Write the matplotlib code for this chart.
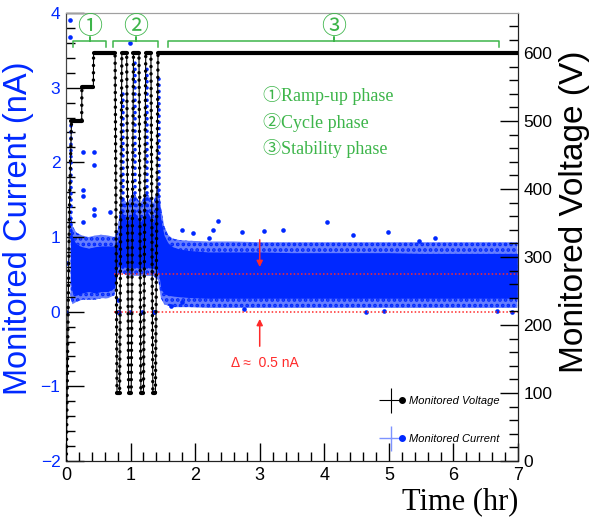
import numpy as np
import matplotlib
matplotlib.use('Agg')
import matplotlib.pyplot as plt
from matplotlib.lines import Line2D
from matplotlib.ticker import MultipleLocator, FixedLocator
from matplotlib.legend_handler import HandlerTuple

# ---------------- data ----------------
# Monitored voltage (V) vs time (hr)
volt_t = [0.0, 0.005, 0.03, 0.055, 0.085, 0.243, 0.246, 0.424, 0.427, 0.76, 0.79, 0.83, 0.865,
          0.94, 0.97, 1.01, 1.045, 1.13, 1.16, 1.20, 1.235, 1.315, 1.345, 1.385, 1.425, 7.0]
volt_v = [0, 0, 200, 380, 500, 500, 550, 550, 600, 600, 100, 100, 600,
          600, 100, 100, 600, 600, 100, 100, 600, 600, 100, 100, 600, 600]

# Monitored current (nA): dense cloud summarised by envelope knots
band_t = [0.07, 0.10, 0.16, 0.25, 0.35, 0.45, 0.55, 0.65, 0.75, 0.80, 0.86, 0.95, 1.05, 1.15,
          1.25, 1.35, 1.43, 1.47, 1.52, 1.58, 1.65, 1.75, 1.9, 2.2, 2.6, 3.0, 3.5, 4.0, 4.5,
          5.0, 5.5, 6.0, 6.5, 6.99]
core_lo = [0.40, 0.25, 0.22, 0.25, 0.27, 0.25, 0.27, 0.27, 0.32, 0.60, 0.62, 0.58, 0.60, 0.58,
           0.60, 0.58, 0.55, 0.30, 0.24, 0.22, 0.21, 0.20, 0.19, 0.18, 0.18, 0.18, 0.18, 0.18,
           0.18, 0.18, 0.18, 0.18, 0.18, 0.18]
core_hi = [1.15, 1.00, 0.90, 0.87, 0.85, 0.87, 0.88, 0.88, 0.88, 0.95, 1.35, 1.20, 1.35, 1.20,
           1.35, 1.20, 1.50, 1.22, 1.02, 0.92, 0.87, 0.84, 0.82, 0.80, 0.80, 0.80, 0.79, 0.79,
           0.79, 0.79, 0.78, 0.78, 0.78, 0.78]
fringe_lo = [0.18, 0.10, 0.13, 0.16, 0.16, 0.16, 0.18, 0.18, 0.22, 0.48, 0.52, 0.48, 0.48, 0.48,
             0.48, 0.48, 0.42, 0.18, 0.10, 0.08, 0.06, 0.06, 0.06, 0.05, 0.05, 0.05, 0.05, 0.05,
             0.05, 0.05, 0.05, 0.05, 0.05, 0.05]
fringe_hi = [1.40, 1.15, 1.06, 1.02, 1.00, 1.02, 1.03, 1.02, 1.00, 1.10, 1.55, 1.45, 1.60, 1.45,
             1.60, 1.45, 1.70, 1.40, 1.15, 1.03, 0.98, 0.96, 0.95, 0.94, 0.94, 0.93, 0.93, 0.93,
             0.93, 0.93, 0.93, 0.93, 0.93, 0.93]

# current spikes during voltage ramps
spike_t = [0.07, 0.88, 1.065, 1.25, 1.445]
spike_lo = [1.0, 0.6, 0.6, 0.6, 0.8]
spike_hi = [2.5, 3.0, 3.4, 3.3, 3.2]

# isolated current points
out_t = [0.06, 0.06, 0.99, 0.26, 0.43, 0.43, 0.26, 0.26, 0.43, 0.43, 0.68, 0.27, 0.005, 0.02,
         0.81, 0.82, 0.99, 1.17, 1.36, 1.37, 0.80, 1.80,
         2.36, 2.72, 3.07, 3.36, 4.04, 2.28, 1.79, 1.96, 2.21, 4.45, 4.99, 5.72, 5.46,
         4.64, 4.92, 6.91, 6.68, 2.75, 1.62]
out_i = [3.90, 3.68, 3.60, 2.14, 2.14, 1.96, 1.63, 1.55, 1.38, 1.30, 1.34, 1.20, 0.0, 0.65,
         0.0, 0.0, 0.0, 0.0, 0.0, 0.0, 0.15, 0.13,
         1.22, 1.07, 1.08, 1.10, 1.20, 1.10, 1.09, 1.05, 0.99, 1.03, 1.07, 0.99, 0.94,
         0.0, 0.01, 0.0, 0.01, 0.03, 0.07]

ref_levels = [0.0, 0.5]
ref_span = [0.75, 7.0]

phase_start = [0.11, 0.73, 1.58]
phase_end = [0.62, 1.43, 6.71]
phase_marks = ['\u2460', '\u2461', '\u2462']
phase_names = ['Ramp-up phase', 'Cycle phase', 'Stability phase']

x_ticks = [0, 1, 2, 3, 4, 5, 6, 7]
i_ticks = [-2, -1, 0, 1, 2, 3, 4]
v_ticks = [0, 100, 200, 300, 400, 500, 600]

# ---------------- style ----------------
BLUE = '#0028ff'
GREEN = '#3db54a'
RED = '#ff2a2a'
plt.rcParams['font.family'] = ['Liberation Sans', 'DejaVu Sans']
plt.rcParams['hatch.linewidth'] = 1.8

fig = plt.figure(figsize=(5.89, 5.22), dpi=100)
ax = fig.add_axes([66 / 589, 61 / 522, 452 / 589, 448 / 522])
ax.set_xlim(0, 7)
ax.set_ylim(-2, 4)
ax2 = ax.twinx()
ax2.set_ylim(0, 659)

# current cloud
ax.fill_between(band_t, fringe_lo, fringe_hi, facecolor=BLUE, alpha=0.6, lw=0, zorder=1)
ax.fill_between(band_t, fringe_lo, fringe_hi, facecolor='none', edgecolor=BLUE,
                hatch='...', lw=0, zorder=1)
ax.fill_between(band_t, core_lo, core_hi, color=BLUE, lw=0, zorder=2)
for t0, lo, hi in zip(spike_t, spike_lo, spike_hi):
    ax.plot([t0, t0], [lo, hi], color=BLUE, lw=2.6, ls=(0, (0.01, 1.7)),
            dash_capstyle='round', zorder=2)
ax.scatter(out_t, out_i, s=11, color=BLUE, lw=0, zorder=2)

# reference lines
ax.hlines(ref_levels, ref_span[0], ref_span[1], colors=RED, linestyles=(0, (1, 1.4)),
          lw=1.1, zorder=3)

# voltage
vt = np.array(volt_t)
vv = np.array(volt_v)
ax2.plot(vt, vv, color='black', lw=0.8, zorder=4)
ax2.plot(vt, vv, color='black', lw=2.5, ls=(0, (0.01, 2.1)), dash_capstyle='round', zorder=4)
flat = np.where(vv[:-1] == vv[1:])[0]
for i in flat:
    ax2.plot(vt[i:i + 2], vv[i:i + 2], color='black', lw=3.0, solid_capstyle='round', zorder=4)

# axes styling
ax.xaxis.set_major_locator(FixedLocator(x_ticks))
ax.xaxis.set_minor_locator(MultipleLocator(0.2))
ax.yaxis.set_major_locator(FixedLocator(i_ticks))
ax.yaxis.set_minor_locator(MultipleLocator(0.2))
ax2.yaxis.set_major_locator(FixedLocator(v_ticks))
ax2.yaxis.set_minor_locator(MultipleLocator(20))
ax.tick_params(axis='x', which='major', direction='in', length=13, width=1, labelsize=13, pad=4,
               top=False)
ax.tick_params(axis='x', which='minor', direction='in', length=6.5, width=1, top=False)
ax.tick_params(axis='y', which='major', direction='in', length=13, width=1, labelsize=12.5,
               labelcolor=BLUE, pad=4, right=False)
ax.tick_params(axis='y', which='minor', direction='in', length=6.5, width=1, right=False)
ax2.tick_params(axis='y', which='major', direction='in', length=13, width=1, labelsize=12.5, pad=4)
ax2.tick_params(axis='y', which='minor', direction='in', length=6.5, width=1)
for a in (ax, ax2):
    a.spines['top'].set_color('#a0a0a0')
    a.spines['left'].set_color('#444444')
    a.spines['bottom'].set_color('#222222')
    a.spines['right'].set_color('#222222')

fig.text(19 / 589, 1 - 228 / 522, 'Monitored Current (nA)', rotation=90, color=BLUE,
         fontsize=23.5, ha='center', va='center')
fig.text(574 / 589, 1 - 212 / 522, 'Monitored Voltage (V)', rotation=90, color='black',
         fontsize=24, ha='center', va='center')
fig.text(460 / 589, 1 - 502 / 522, 'Time (hr)', family='Liberation Serif', fontsize=22,
         ha='center', va='center')

# phase brackets
for s, e, m in zip(phase_start, phase_end, phase_marks):
    mid = 0.5 * (s + e)
    ax2.plot([s, s, mid, mid, mid, e, e], [3.545, 3.63, 3.63, 3.68, 3.63, 3.63, 3.545],
             color=GREEN, lw=1.1, transform=ax.transData, zorder=5)
    ax2.text(mid, 3.81, m, color=GREEN, fontsize=18, ha='center', va='center',
             family=['Noto Sans CJK JP', 'DejaVu Sans'], transform=ax.transData, zorder=5)

for k, (m, name) in enumerate(zip(phase_marks, phase_names)):
    ax2.text(3.05, 2.89 - 0.35 * k, m + name, color=GREEN, fontsize=13, ha='left', va='center',
             family=['Liberation Serif', 'Noto Sans CJK JP'], transform=ax.transData, zorder=5)

# delta annotation
ax2.annotate('', xy=(3.0, 0.56), xytext=(3.0, 1.0), xycoords=ax.transData,
             textcoords=ax.transData,
             arrowprops=dict(arrowstyle='-|>', color=RED, lw=1.1, mutation_scale=9))
ax2.annotate('', xy=(3.0, -0.06), xytext=(3.0, -0.5), xycoords=ax.transData,
             textcoords=ax.transData,
             arrowprops=dict(arrowstyle='-|>', color=RED, lw=1.1, mutation_scale=9))
ax2.text(3.08, -0.69, '\u0394 \u2248  0.5 nA', color=RED, fontsize=10, ha='center', va='center',
         transform=ax.transData)

# legend
h_v = (Line2D([], [], color='black', marker='+', ms=18, mew=0.8, ls='none'),
       Line2D([], [], color='black', marker='o', ms=4, ls='none'))
h_c = (Line2D([], [], color='#7d93ff', marker='+', ms=18, mew=1.0, ls='none'),
       Line2D([], [], color=BLUE, marker='o', ms=4, ls='none'))
leg = ax2.legend([h_v, h_c], ['Monitored Voltage', 'Monitored Current'],
                 handler_map={tuple: HandlerTuple(ndivide=None)},
                 loc='center left', bbox_to_anchor=(0.69, 0.092), frameon=False,
                 prop={'style': 'italic', 'size': 8}, labelspacing=2.5, handlelength=1.6,
                 handletextpad=0.3)

fig.savefig('out.png', dpi=100)
